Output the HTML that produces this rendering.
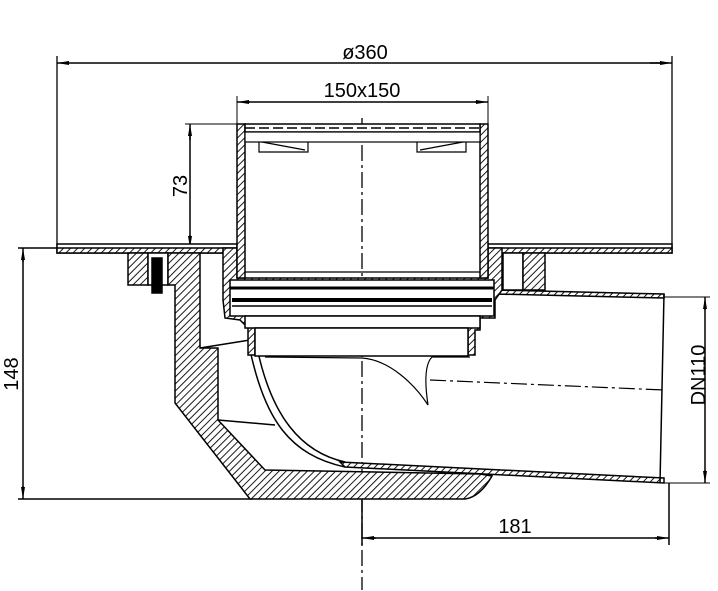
<!DOCTYPE html>
<html><head><meta charset="utf-8"><style>
html,body{margin:0;padding:0;background:#fff;}
svg{display:block;}
text{font-family:"Liberation Sans",sans-serif;fill:#000;}
</style></head><body>
<svg width="718" height="591" viewBox="0 0 718 591" xmlns="http://www.w3.org/2000/svg">
<defs>
<pattern id="h" width="5" height="5" patternUnits="userSpaceOnUse" patternTransform="rotate(45)">
<rect width="5" height="5" fill="#fff"/><line x1="0" y1="0" x2="0" y2="5" stroke="#000" stroke-width="1.8"/>
</pattern>
<marker id="a" markerWidth="12" markerHeight="6" refX="12" refY="3" orient="auto" markerUnits="userSpaceOnUse">
<path d="M0,1 L12,3 L0,5z" fill="#000"/></marker>
</defs>
<g fill="none" stroke="#000" stroke-width="1.5">
<line x1="57" y1="56" x2="57" y2="248" stroke-width="1.3"/>
<line x1="672" y1="56" x2="672" y2="248" stroke-width="1.3"/>
<line x1="70" y1="63" x2="57" y2="63" marker-end="url(#a)"/>
<line x1="70" y1="63" x2="660" y2="63"/>
<line x1="650" y1="63" x2="672" y2="63" marker-end="url(#a)"/>
<line x1="237" y1="96" x2="237" y2="124" stroke-width="1"/>
<line x1="488" y1="96" x2="488" y2="124" stroke-width="1"/>
<line x1="250" y1="102" x2="237" y2="102" marker-end="url(#a)"/>
<line x1="245" y1="102" x2="480" y2="102"/>
<line x1="475" y1="102" x2="488" y2="102" marker-end="url(#a)"/>
<line x1="185" y1="124" x2="237" y2="124" stroke-width="1"/>
<line x1="190" y1="140" x2="190" y2="124" marker-end="url(#a)"/>
<line x1="190" y1="135" x2="190" y2="240"/>
<line x1="190" y1="235" x2="190" y2="248" marker-end="url(#a)"/>
<line x1="18" y1="248" x2="57" y2="248"/>
<line x1="18" y1="499" x2="252" y2="499"/>
<line x1="23" y1="262" x2="23" y2="248" marker-end="url(#a)"/>
<line x1="23" y1="258" x2="23" y2="490"/>
<line x1="23" y1="486" x2="23" y2="499" marker-end="url(#a)"/>
<line x1="362" y1="500" x2="362" y2="545"/>
<line x1="669" y1="483" x2="669" y2="545"/>
<line x1="376" y1="538" x2="362" y2="538" marker-end="url(#a)"/>
<line x1="370" y1="538" x2="660" y2="538"/>
<line x1="655" y1="538" x2="669" y2="538" marker-end="url(#a)"/>
<line x1="662" y1="297" x2="710" y2="297" stroke-width="1"/>
<line x1="662" y1="483" x2="710" y2="483" stroke-width="1"/>
<line x1="705" y1="310" x2="705" y2="297" marker-end="url(#a)"/>
<line x1="705" y1="305" x2="705" y2="475"/>
<line x1="705" y1="470" x2="705" y2="483" marker-end="url(#a)"/>
<line x1="362" y1="118" x2="362" y2="590" stroke-width="1.3" stroke-dasharray="16,4,3,4"/>
<line x1="430" y1="380" x2="664" y2="390" stroke-width="1.2" stroke-dasharray="16,4,3,4"/>

<rect x="57" y="244" width="180" height="9" fill="#fff"/>
<rect x="488" y="244" width="184" height="9" fill="#fff"/>
<rect x="57" y="248" width="180" height="5" fill="url(#h)"/>
<rect x="488" y="248" width="184" height="5" fill="url(#h)"/>
<rect x="128" y="253" width="20" height="32" fill="url(#h)"/>
<rect x="148" y="253" width="20" height="32" fill="#fff"/>
<rect x="152" y="258" width="10" height="35" fill="#000"/>
<rect x="503" y="253" width="20" height="37" fill="#fff"/>
<rect x="523" y="253" width="22" height="37" fill="url(#h)"/>
<path d="M168,253 L200,253 L200,348 L218,348 L218,420 L265,470 L480,474 L492,476 Q480,497 465,499 L250,499 L175,403 L175,285 L168,285 Z" fill="url(#h)"/>
<path d="M200,348 L250,340" />
<path d="M218,420 L275,425"/>
<path d="M495,290 L664,294 L664,298 L495,294 Z" fill="url(#h)"/>
<path d="M340,462 L664,478 L664,483 L345,467 Z" fill="url(#h)"/>
<line x1="664" y1="294" x2="660" y2="483"/>
<path d="M250,350 C265,420 290,455 345,467" fill="none"/>
<path d="M258,352 C272,415 300,452 345,462" fill="none"/>
<path d="M265,357 L362,358 C390,360 415,385 428,405" fill="none" stroke-width="1.2"/>
<path d="M428,405 C425,385 424,365 432,357 L470,357" fill="none" stroke-width="1.2"/>
<path d="M223,248 L237,248 L237,278 L488,278 L488,248 L502,248 L502,290 L495,300 L495,318 L480,318 L480,330 L475,330 L475,355 L468,355 L468,330 L255,330 L255,355 L248,355 L248,328 L240,320 L225,318 L223,300 Z" fill="url(#h)"/>
<rect x="230" y="280" width="264" height="36" fill="#fff"/>
<line x1="230" y1="288" x2="494" y2="288" stroke-width="3"/>
<line x1="232" y1="300" x2="492" y2="300" stroke-width="4"/>
<line x1="232" y1="306" x2="492" y2="306"/>
<rect x="245" y="316" width="235" height="12" fill="#fff"/>
<rect x="255" y="328" width="213" height="28" fill="#fff"/>
<rect x="237" y="124" width="8" height="154" fill="url(#h)"/>
<rect x="480" y="124" width="8" height="154" fill="url(#h)"/>
<rect x="245" y="124" width="235" height="8" fill="#fff"/>
<line x1="245" y1="128" x2="480" y2="128" stroke-dasharray="10,4"/>
<rect x="245" y="132" width="235" height="10" fill="#fff" stroke-width="1.2"/>
<path d="M259,142 L259,152 L308,152 L308,142 M262,142 L305,150" stroke-width="1.2"/>
<path d="M417,142 L417,152 L466,152 L466,142 M420,150 L463,142" stroke-width="1.2"/>
<line x1="245" y1="272" x2="480" y2="272" stroke-width="1.2"/>
</g>
<text x="365" y="59" font-size="20" text-anchor="middle">ø360</text>
<text x="362" y="97" font-size="20" text-anchor="middle">150x150</text>
<text x="515" y="533" font-size="20" text-anchor="middle">181</text>
<text transform="translate(187,186) rotate(-90)" font-size="20" text-anchor="middle">73</text>
<text transform="translate(18,374) rotate(-90)" font-size="20" text-anchor="middle">148</text>
<text transform="translate(705,375) rotate(-90)" font-size="20" text-anchor="middle">DN110</text>
</svg>
</body></html>
